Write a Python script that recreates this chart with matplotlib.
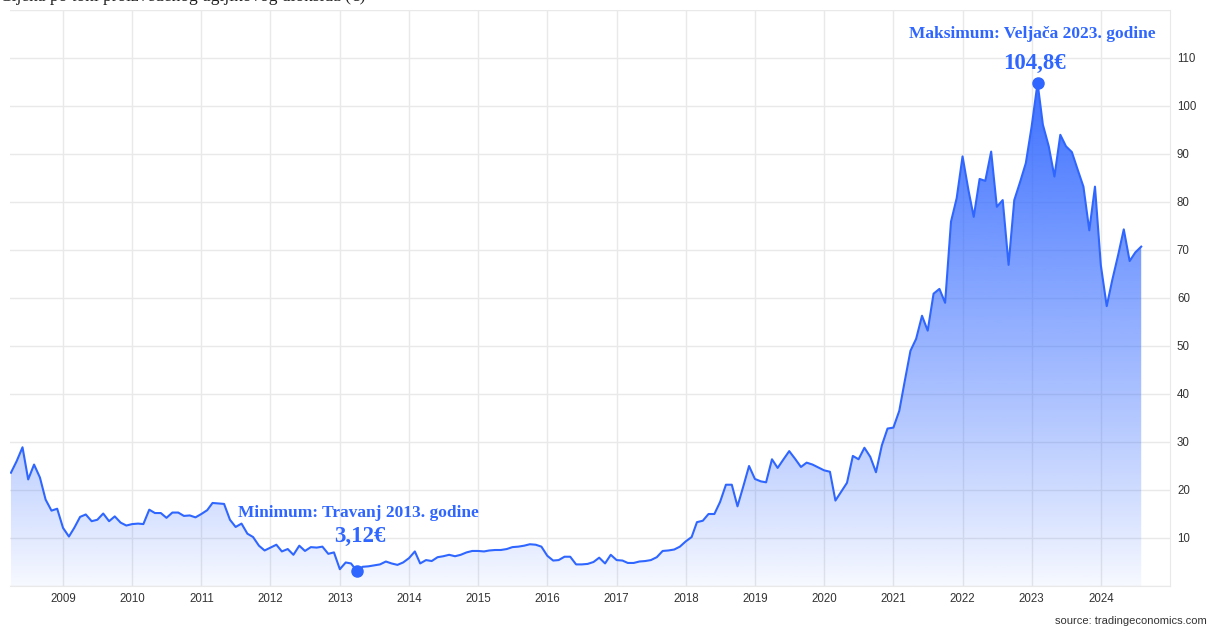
import numpy as np
import pandas as pd
import matplotlib
matplotlib.use("Agg")
import matplotlib.pyplot as plt
import matplotlib.dates as mdates

# monthly price per tonne of CO2 (EUR), Apr 2008 - Aug 2024
start_month = "2008-04-01"
prices = [
    23.6, 26.0, 28.9, 22.2, 25.3, 22.6, 18.0, 15.7, 16.1,            # 2008
    12.1, 10.3, 12.1, 14.4, 14.9, 13.5, 13.8, 15.1, 13.5, 14.5, 13.2, 12.6,  # 2009
    12.9, 13.0, 12.9, 15.9, 15.2, 15.2, 14.2, 15.3, 15.3, 14.6, 14.7, 14.3,  # 2010
    15.0, 15.8, 17.3, 17.2, 17.1, 13.8, 12.3, 13.0, 10.9, 10.2, 8.4, 7.4,    # 2011
    8.0, 8.6, 7.2, 7.7, 6.5, 8.4, 7.3, 8.1, 8.0, 8.2, 6.7, 7.0,              # 2012
    3.5, 4.9, 4.7, 3.12, 4.0, 4.1, 4.3, 4.5, 5.1, 4.7, 4.4, 4.9,             # 2013
    5.8, 7.2, 4.7, 5.4, 5.2, 6.0, 6.2, 6.5, 6.2, 6.5, 7.0, 7.3,              # 2014
    7.3, 7.2, 7.4, 7.5, 7.5, 7.7, 8.1, 8.2, 8.4, 8.7, 8.6, 8.2,              # 2015
    6.3, 5.3, 5.4, 6.1, 6.1, 4.5, 4.5, 4.6, 5.0, 5.9, 4.7, 6.5,              # 2016
    5.4, 5.3, 4.8, 4.8, 5.1, 5.2, 5.4, 6.0, 7.3, 7.4, 7.6, 8.2,              # 2017
    9.3, 10.2, 13.3, 13.6, 15.0, 15.0, 17.5, 21.1, 21.1, 16.6, 20.8, 25.0,   # 2018
    22.3, 21.8, 21.6, 26.4, 24.6, 26.4, 28.1, 26.5, 24.8, 25.7, 25.3, 24.7,  # 2019
    24.1, 23.8, 17.8, 19.7, 21.5, 27.1, 26.4, 28.8, 26.9, 23.7, 29.3, 32.8,  # 2020
    33.0, 36.5, 42.5, 49.0, 51.5, 56.3, 53.2, 60.9, 61.9, 59.0, 75.9, 80.8,  # 2021
    89.5, 82.5, 76.9, 84.8, 84.4, 90.5, 79.0, 80.4, 66.9, 80.4, 84.2, 88.1,  # 2022
    95.8, 104.8, 96.1, 91.6, 85.3, 94.0, 91.6, 90.4, 86.7, 83.2, 74.1, 83.2, # 2023
    66.8, 58.3, 63.7, 68.9, 74.3, 67.7, 69.5, 70.7,                          # 2024
]
years = list(range(2009, 2025))
y_ticks = list(range(10, 111, 10))

title = "Cijena po toni proizvedenog ugljikovog dioksida (€)"
max_label = "Maksimum: Veljača 2023. godine"
max_value = "104,8€"
min_label = "Minimum: Travanj 2013. godine"
min_value = "3,12€"

blue = "#2f66ff"
grid_col = "#e9e9e9"
sans = ["Liberation Sans", "DejaVu Sans"]
serif = ["Liberation Serif", "DejaVu Serif"]

dates = pd.date_range(start_month, periods=len(prices), freq="MS")
x = mdates.date2num(dates)
y = np.array(prices)

fig = plt.figure(figsize=(12.09, 6.27), dpi=100)
ax = fig.add_axes([10 / 1209, 1 - 586 / 627, 1160 / 1209, 576 / 627])

xmin = mdates.date2num(pd.Timestamp("2008-03-27"))
xmax = mdates.date2num(pd.Timestamp("2024-12-31"))
ax.set_xlim(xmin, xmax)
ax.set_ylim(0, 120)

# gradient fill under the line
poly = ax.fill_between(x, y, 0, color="none", lw=0)
n = 256
alpha = np.linspace(0.03, 1.0, n) ** 0.9
grad = np.zeros((n, 1, 4))
grad[:, 0, 0] = 0x2f / 255
grad[:, 0, 1] = 0x66 / 255
grad[:, 0, 2] = 1.0
grad[:, 0, 3] = np.clip(alpha * 0.95, 0, 1)
img = ax.imshow(grad, extent=[xmin, xmax, 0, 108], origin="lower",
                aspect="auto", zorder=2)
img.set_clip_path(poly.get_paths()[0], transform=ax.transData)

ax.plot(x, y, color=blue, lw=1.5, zorder=3)

# min / max markers
imax = int(np.argmax(y))
imin = int(np.argmin(y))
ax.plot(x[imax], y[imax], "o", color=blue, ms=8, zorder=4)
ax.plot(x[imin], y[imin], "o", color=blue, ms=8, zorder=4)

ax.annotate(max_label, (x[imax], y[imax]), xytext=(-4, 35), textcoords="offset points",
            ha="center", va="center", color=blue, fontsize=12.5, fontweight="bold",
            family=serif)
ax.annotate(max_value, (x[imax], y[imax]), xytext=(-2, 14), textcoords="offset points",
            ha="center", va="center", color=blue, fontsize=16.5, fontweight="bold",
            family=serif)
ax.annotate(min_label, (x[imin], y[imin]), xytext=(1, 42), textcoords="offset points",
            ha="center", va="center", color=blue, fontsize=12.5, fontweight="bold",
            family=serif)
ax.annotate(min_value, (x[imin], y[imin]), xytext=(2, 25), textcoords="offset points",
            ha="center", va="center", color=blue, fontsize=16.5, fontweight="bold",
            family=serif)

# axes styling
ax.set_xticks([mdates.date2num(pd.Timestamp(f"{yr}-01-01")) for yr in years])
ax.set_xticklabels([str(yr) for yr in years], family=sans, fontsize=8.3, color="#333333")
ax.yaxis.tick_right()
ax.set_yticks(y_ticks)
ax.set_yticklabels([str(v) for v in y_ticks], family=sans, fontsize=8.3, color="#333333")
ax.set_yticks([0, 120], minor=True)
ax.tick_params(which="both", length=0, pad=5)
ax.grid(True, which="both", color=grid_col, lw=1, zorder=0)
ax.set_axisbelow(True)
for side in ["left", "top"]:
    ax.spines[side].set_visible(False)
for side in ["right", "bottom"]:
    ax.spines[side].set_color(grid_col)

fig.text(0.0, 1 - 1 / 627, title, ha="left", va="baseline", fontsize=12.5,
         family=serif, color="#222222")
fig.text(1 - 2 / 1209, 1 - 621 / 627, "source: tradingeconomics.com", ha="right",
         va="center", fontsize=8, family=sans, color="#333333")

fig.savefig("out.png", dpi=100)
